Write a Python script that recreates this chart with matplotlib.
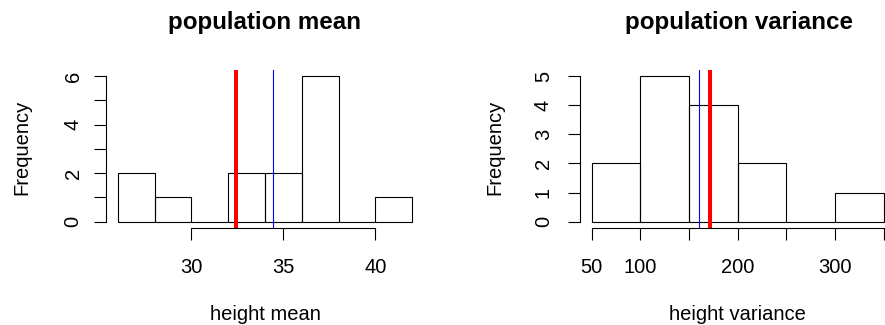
import numpy as np
import matplotlib
matplotlib.use('Agg')
import matplotlib.pyplot as plt

# ============================================================
# Data
# ============================================================

mean_edges = [26, 28, 30, 32, 34, 36, 38, 40, 42]
mean_counts = [2, 1, 0, 2, 2, 6, 0, 1]
mean_sample = 32.44      # red line
mean_true = 34.45        # blue line

var_edges = [50, 100, 150, 200, 250, 300, 350]
var_counts = [2, 5, 4, 2, 0, 1]
var_sample = 171.5       # red line
var_true = 160.5         # blue line

mean_xticks = [30, 35, 40]
mean_xlabels = ['30', '35', '40']
mean_yticks = [0, 1, 2, 3, 4, 5, 6]
mean_ylabels = ['0', '', '2', '', '4', '', '6']

var_xticks = [50, 100, 150, 200, 250, 300, 350]
var_xlabels = ['50', '100', '', '200', '', '300', '']
var_yticks = [0, 1, 2, 3, 4, 5]
var_ylabels = ['0', '1', '2', '3', '4', '5']

# ============================================================
# Style
# ============================================================

plt.rcParams['font.family'] = ['Liberation Sans', 'DejaVu Sans']
FS = 14.5
W, H = 885, 325


def px_x(x):
    return x / W


def px_y(y):
    return (H - y) / H


def draw_hist(ax, edges, counts, red, blue, xticks, xlabels, yticks, ylabels, ypad):
    edges = np.asarray(edges, dtype=float)
    ax.bar(edges[:-1], counts, width=np.diff(edges), align='edge',
           fill=False, edgecolor='black', linewidth=0.8)
    ax.axvline(red, color='red', linewidth=2.9)
    ax.axvline(blue, color='blue', linewidth=0.8)

    # R-style 4% padding
    span = edges[-1] - edges[0]
    ax.set_xlim(edges[0] - 0.04 * span, edges[-1] + 0.04 * span)
    ymax = max(counts)
    ax.set_ylim(-0.04 * ymax, ymax * 1.04)

    for s in ['top', 'right']:
        ax.spines[s].set_visible(False)
    ax.spines['left'].set_bounds(yticks[0], yticks[-1])
    ax.spines['bottom'].set_bounds(xticks[0], xticks[-1])
    for s in ['left', 'bottom']:
        ax.spines[s].set_linewidth(0.8)

    ax.set_xticks(xticks)
    ax.set_xticklabels(xlabels)
    ax.set_yticks(yticks)
    ax.set_yticklabels(ylabels, rotation=90, va='center')
    ax.tick_params(axis='both', direction='out', length=8.6, width=0.8, labelsize=FS)
    ax.tick_params(axis='x', pad=13.2)
    ax.tick_params(axis='y', pad=ypad)


fig = plt.figure(figsize=(W / 100, H / 100), dpi=100)

ax1 = fig.add_axes([px_x(106.2), px_y(227.5), (423.8 - 106.2) / W, (227.5 - 70.2) / H])
draw_hist(ax1, mean_edges, mean_counts, mean_sample, mean_true,
          mean_xticks, mean_xlabels, mean_yticks, mean_ylabels, 8.4)

ax2 = fig.add_axes([px_x(580), px_y(227.5), (895.5 - 580) / W, (227.5 - 70.2) / H])
draw_hist(ax2, var_edges, var_counts, var_sample, var_true,
          var_xticks, var_xlabels, var_yticks, var_ylabels, 10.9)

# titles and axis labels
fig.text(px_x(265), px_y(29.3), 'population mean', ha='center', va='baseline',
         fontsize=17.4, fontweight='bold')
fig.text(px_x(739), px_y(29.3), 'population variance', ha='center', va='baseline',
         fontsize=17.4, fontweight='bold')
fig.text(px_x(265), px_y(320.5), 'height mean', ha='center', va='baseline', fontsize=FS)
fig.text(px_x(737.5), px_y(320.5), 'height variance', ha='center', va='baseline', fontsize=FS)
fig.text(px_x(22.2), px_y(147), 'Frequency', rotation=90, ha='center', va='center', fontsize=FS)
fig.text(px_x(494.5), px_y(147), 'Frequency', rotation=90, ha='center', va='center', fontsize=FS)

fig.savefig('out.png', dpi=100)
